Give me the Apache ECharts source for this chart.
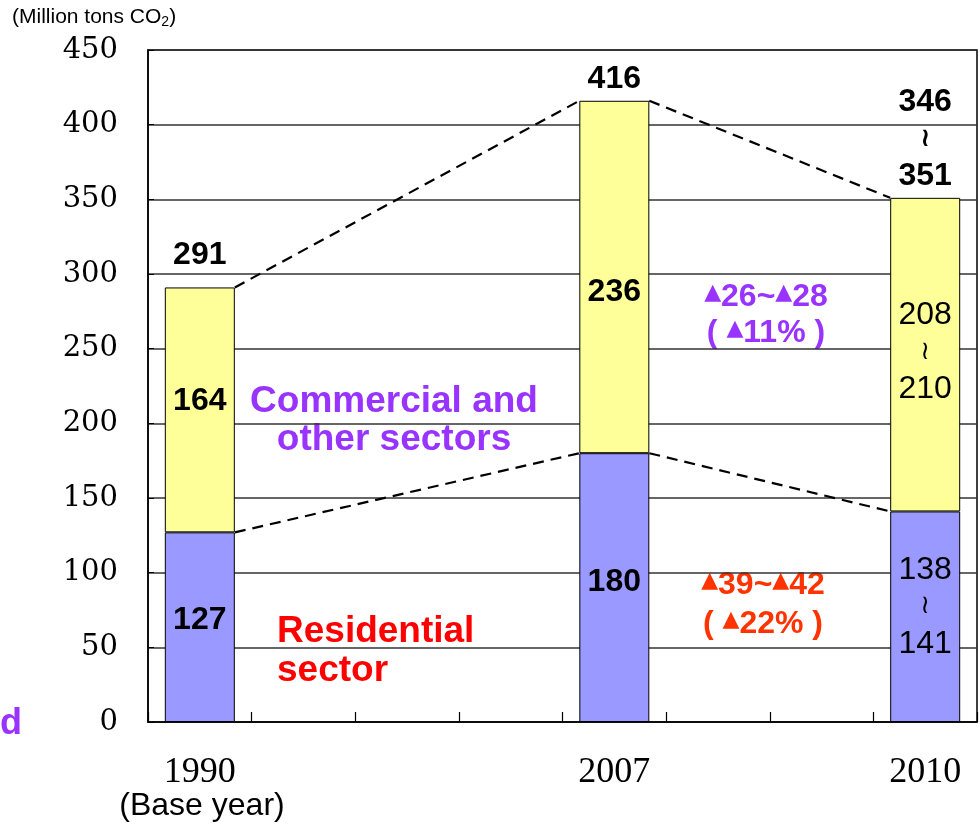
<!DOCTYPE html>
<html>
<head>
<meta charset="utf-8">
<script src="https://cdn.jsdelivr.net/npm/echarts@6/dist/echarts.min.js"></script>
<style>
  html, body { margin: 0; padding: 0; background: #fff; }
  #chart { width: 980px; height: 829px; }
</style>
</head>
<body>
<div id="chart"></div>
<script>
// Eight year slots on the x axis; only three carry bars
const years = ['1990', '', '', '', '2007', '', '', '2010'];
const barSlots = [0, 4, 7];

// Emissions (million tons CO2); 2010 is a projected range
const residential = [127, 180, 141];
const residentialLow = [127, 180, 138];
const commercial = [164, 236, 210];
const commercialLow = [164, 236, 208];
const totals = [291, 416, 351];
const totalsLow = [291, 416, 346];

const yTicks = [0, 50, 100, 150, 200, 250, 300, 350, 400, 450];

const BAR_W = 70;
const PURPLE = '#9933FF';
const SANS = '"Liberation Sans", Arial, sans-serif';
const SYM = '"DejaVu Sans", sans-serif';

function rangeText(lo, hi) {
  return lo === hi ? '{n|' + hi + '}' : '{n|' + lo + '}\n{w|≀}\n{n|' + hi + '}';
}

const innerOffsetsRes = [-7, -5, -10];
const innerOffsetsCom = [-9, 15, -2];
const topDistance = [14, 3, 3];

function segmentData(vals, lows, offsets) {
  const out = years.map(() => null);
  barSlots.forEach((s, i) => {
    const ranged = lows[i] !== vals[i];
    out[s] = {
      value: vals[i],
      label: {
        formatter: rangeText(lows[i], vals[i]),
        offset: [0, offsets[i]],
        color: '#000',
        rich: {
          n: { fontFamily: SANS, fontSize: 32, fontWeight: ranged ? 'normal' : 'bold', color: '#000', lineHeight: 37 },
          w: { fontFamily: SYM, fontSize: 26, color: '#000', lineHeight: 37 }
        }
      }
    };
  });
  return out;
}

// dashed connectors between consecutive bar tops
const connectorTotals = [];
const connectorRes = [];
for (let i = 0; i < barSlots.length - 1; i++) {
  connectorTotals.push([barSlots[i], totals[i], barSlots[i + 1], totals[i + 1]]);
  connectorRes.push([barSlots[i], residential[i], barSlots[i + 1], residential[i + 1]]);
}

function renderConnector(params, api) {
  const a = api.coord([api.value(0), api.value(1)]);
  const b = api.coord([api.value(2), api.value(3)]);
  const half = BAR_W / 2;
  return {
    type: 'line',
    shape: { x1: a[0] + half, y1: a[1], x2: b[0] - half, y2: b[1] },
    style: { stroke: '#000', lineWidth: 2.2, lineDash: [11, 7] },
    z2: 10
  };
}

const chart = echarts.init(document.getElementById('chart'), null, { renderer: 'canvas' });

const triStyle = (fill) => ({
  fontSize: 22, fontFamily: SYM, fill: fill, verticalAlign: 'middle', padding: [0, 0, 8, 0]
});

chart.setOption({
  animation: false,
  backgroundColor: '#fff',
  grid: {
    left: 148, right: 3, top: 50, bottom: 107,
    show: true, borderColor: '#000', borderWidth: 1.5, backgroundColor: 'transparent'
  },
  xAxis: {
    type: 'category',
    data: years,
    boundaryGap: true,
    axisLine: { lineStyle: { color: '#000', width: 1.5 } },
    axisTick: { show: true, inside: true, length: 10, interval: 0, lineStyle: { color: '#000', width: 1.2 } },
    axisLabel: {
      interval: 0, margin: 33, color: '#000',
      fontFamily: '"Liberation Serif", serif', fontSize: 36
    },
    splitLine: { show: false }
  },
  yAxis: {
    type: 'value',
    min: yTicks[0], max: yTicks[yTicks.length - 1], interval: 50,
    axisLine: { show: true, lineStyle: { color: '#000', width: 1.5 } },
    axisTick: { show: true, inside: true, length: 6, lineStyle: { color: '#000' } },
    axisLabel: {
      margin: 30, color: '#000',
      fontFamily: '"DejaVu Serif", serif', fontSize: 29
    },
    splitLine: { show: true, lineStyle: { color: '#333', width: 1.6 } }
  },
  series: [
    {
      name: 'Residential sector',
      type: 'bar',
      stack: 'total',
      barWidth: BAR_W,
      itemStyle: { color: '#9999FF', borderColor: '#000', borderWidth: 1 },
      label: { show: true, position: 'inside' },
      data: segmentData(residential, residentialLow, innerOffsetsRes)
    },
    {
      name: 'Commercial and other sectors',
      type: 'bar',
      stack: 'total',
      barWidth: BAR_W,
      itemStyle: { color: '#FFFF99', borderColor: '#000', borderWidth: 1 },
      label: { show: true, position: 'inside' },
      data: segmentData(commercial, commercialLow, innerOffsetsCom)
    },
    {
      name: 'Total',
      type: 'scatter',
      symbolSize: 0,
      silent: true,
      itemStyle: { color: '#000', opacity: 1 },
      data: barSlots.map((s, i) => ({
        value: [s, totals[i]],
        label: {
          show: true,
          position: 'top',
          distance: topDistance[i],
          color: '#000',
          formatter: rangeText(totalsLow[i], totals[i]),
          rich: {
            n: { fontFamily: SANS, fontSize: 32, fontWeight: 'bold', color: '#000', lineHeight: 37 },
            w: { fontFamily: SYM, fontSize: 26, fontWeight: 'bold', color: '#000', lineHeight: 37 }
          }
        }
      })),
      z: 5
    },
    {
      type: 'custom',
      renderItem: renderConnector,
      data: connectorTotals,
      silent: true,
      z: 4
    },
    {
      type: 'custom',
      renderItem: renderConnector,
      data: connectorRes,
      silent: true,
      z: 4
    }
  ],
  graphic: [
    {
      type: 'text', left: 12, top: 7,
      style: {
        text: '(Million tons CO{s|2})',
        font: '21px ' + SANS, fill: '#000',
        rich: { s: { fontSize: 14, fontFamily: SANS, padding: [9, 0, 0, 0] } }
      }
    },
    {
      type: 'text', x: 202, y: 806,
      style: { text: '(Base year)', font: '32px ' + SANS, fill: '#000', align: 'center', verticalAlign: 'middle' }
    },
    {
      type: 'text', x: 394, y: 421,
      style: {
        text: 'Commercial and\nother sectors', font: 'bold 37px ' + SANS, fill: PURPLE,
        align: 'center', verticalAlign: 'middle', lineHeight: 38
      }
    },
    {
      type: 'text', x: 277, y: 651,
      style: {
        text: 'Residential\nsector', font: 'bold 37px ' + SANS, fill: '#FF0000',
        align: 'left', verticalAlign: 'middle', lineHeight: 39
      }
    },
    {
      type: 'text', x: 766, y: 315,
      style: {
        text: '{t|▲}26~{t|▲}28\n( {t|▲}11% )', font: 'bold 32px ' + SANS, fill: PURPLE,
        align: 'center', verticalAlign: 'middle', lineHeight: 36,
        rich: { t: triStyle(PURPLE) }
      }
    },
    {
      type: 'text', x: 763, y: 605,
      style: {
        text: '{t|▲}39~{t|▲}42\n( {t|▲}22% )', font: 'bold 32px ' + SANS, fill: '#FF3300',
        align: 'center', verticalAlign: 'middle', lineHeight: 39,
        rich: { t: triStyle('#FF3300') }
      }
    },
    {
      type: 'text', x: 0, y: 724,
      style: { text: 'd', font: 'bold 36px ' + SANS, fill: PURPLE, align: 'left', verticalAlign: 'middle' }
    }
  ]
});
</script>
</body>
</html>
